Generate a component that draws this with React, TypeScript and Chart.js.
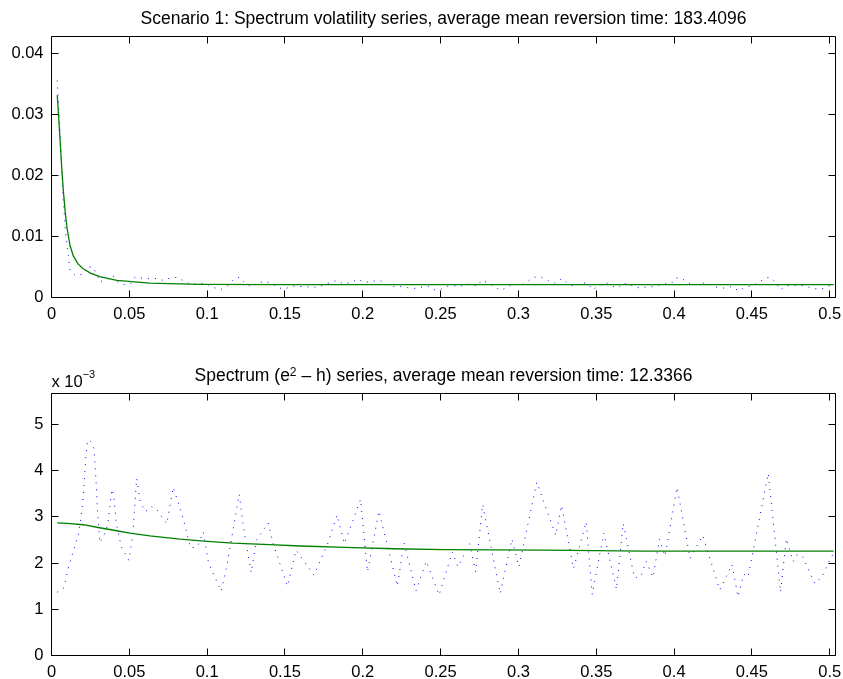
import React, { useEffect, useRef } from 'react';
import { Chart, registerables } from 'chart.js';

Chart.register(...registerables);

// ---------- Top panel: spectrum of the volatility series ----------
const VOL_FREQ = [
  0.0037, 0.0045, 0.0061, 0.0067, 0.0072, 0.0082, 0.0089, 0.0095, 0.0101, 0.0108, 0.0114, 0.0119,
  0.0153, 0.0200, 0.0221, 0.0264, 0.0290, 0.0307, 0.0350, 0.0393, 0.0422, 0.0465, 0.0508, 0.0536,
  0.0568, 0.0621, 0.0675, 0.0718, 0.0761, 0.0808, 0.0850, 0.0900, 0.0949, 0.0996,
  0.1037, 0.1084, 0.1126, 0.1163, 0.1207, 0.1242, 0.1284, 0.1320, 0.1367, 0.1415, 0.1454, 0.1501,
  0.1546, 0.1640, 0.1693, 0.1740, 0.1787, 0.1832, 0.1876, 0.1923, 0.1970, 0.2007, 0.2065, 0.2112,
  0.2154, 0.2201, 0.2238, 0.2324, 0.2369, 0.2414, 0.2458, 0.2503, 0.2547, 0.2594, 0.2636, 0.2689,
  0.2736, 0.2762, 0.2799, 0.2841, 0.2886, 0.2969, 0.3014, 0.3056, 0.3098, 0.3145, 0.3192, 0.3234,
  0.3279, 0.3321, 0.3363, 0.3407, 0.3449, 0.3475, 0.3554, 0.3599, 0.3641, 0.3667, 0.3709, 0.3756,
  0.3803, 0.3848, 0.3934, 0.3981, 0.4013, 0.4057, 0.4105, 0.4147, 0.4189, 0.4233, 0.4278, 0.4325,
  0.4370, 0.4414, 0.4459, 0.4506, 0.4545, 0.4590, 0.4621, 0.4655, 0.4681, 0.4729, 0.4807, 0.4852,
  0.4899, 0.4949, 0.4991, 0.5025,
];
const VOL_SPEC = [
  0.0355, 0.0320, 0.0241, 0.0203, 0.0175, 0.0137, 0.0110, 0.0096, 0.0082, 0.0069, 0.0055, 0.0044,
  0.0036, 0.0038, 0.0050, 0.0050, 0.0039, 0.0026, 0.0028, 0.0036, 0.0026, 0.0021, 0.0022, 0.0033,
  0.0032, 0.0031, 0.0031, 0.0028, 0.0032, 0.0033, 0.0027, 0.0021, 0.0023, 0.0022,
  0.00169, 0.00126, 0.0018, 0.00278, 0.00333, 0.00235, 0.00169, 0.00235, 0.00262, 0.00235, 0.00158, 0.00142,
  0.00186, 0.00175, 0.00169, 0.00197, 0.0024, 0.00278, 0.00224, 0.00246, 0.003, 0.00246, 0.00267, 0.00278,
  0.00213, 0.0018, 0.0018, 0.00147, 0.00164, 0.00191, 0.00126, 0.00136, 0.00186, 0.00191, 0.00191, 0.00224,
  0.0018, 0.00278, 0.00246, 0.0018, 0.00115, 0.00224, 0.00197, 0.00257, 0.00333, 0.00333, 0.00278, 0.00235,
  0.00311, 0.00224, 0.0018, 0.00246, 0.00224, 0.00126, 0.00251, 0.00191, 0.00153, 0.00224, 0.00224, 0.00158,
  0.00169, 0.00169, 0.00224, 0.00224, 0.00322, 0.00295, 0.00224, 0.00213, 0.00235, 0.00213, 0.00164, 0.00153,
  0.0018, 0.00109, 0.00169, 0.00197, 0.00251, 0.00322, 0.00333, 0.00235, 0.00126, 0.00197, 0.00202, 0.0018,
  0.00142, 0.00142, 0.00191, 0.0020,
];
const VOL_FIT_FREQ = [
  0.0037, 0.0046, 0.0055, 0.0065, 0.0076, 0.0088, 0.0100, 0.0119, 0.0140, 0.0170, 0.0204, 0.0250,
  0.0310, 0.0420, 0.0630, 0.0950, 0.1500, 0.5025,
];
const VOL_FIT = [
  0.0331, 0.0295, 0.0258, 0.0215, 0.0175, 0.0140, 0.0113, 0.0085, 0.0068, 0.0055, 0.0047, 0.0040,
  0.0034, 0.0028, 0.00235, 0.00215, 0.0021, 0.0021,
];

// ---------- Bottom panel: spectrum of (e^2 - h), values in units of 1e-3 ----------
const EH_FREQ = [
  0.0037, 0.0076, 0.0091, 0.0112, 0.0144, 0.0172, 0.0187, 0.0200, 0.0211, 0.0221, 0.0232, 0.0252,
  0.0273, 0.0286, 0.0296, 0.0311, 0.0335, 0.0360, 0.0388, 0.0400, 0.0416, 0.0448, 0.0497, 0.0523,
  0.0547, 0.0570, 0.0602, 0.0643, 0.0673, 0.0741, 0.0782, 0.0829, 0.0857, 0.0893, 0.0936, 0.0975,
  0.1009, 0.1090, 0.1124, 0.1150, 0.1206, 0.1231, 0.1283, 0.1317, 0.1392, 0.1422, 0.1516, 0.1571,
  0.1687, 0.1777, 0.1834, 0.1882, 0.1986, 0.2030, 0.2104, 0.2222, 0.2265, 0.2342, 0.2408, 0.2490,
  0.2575, 0.2611, 0.2686, 0.2725, 0.2770, 0.2883, 0.2958, 0.3003, 0.3118, 0.3240, 0.3277, 0.3354,
  0.3435, 0.3474, 0.3548, 0.3630, 0.3673, 0.3745, 0.3788, 0.3820, 0.3865, 0.3906, 0.3942, 0.4019,
  0.4103, 0.4184, 0.4293, 0.4372, 0.4411, 0.4447, 0.4475, 0.4605, 0.4684, 0.4721, 0.4764, 0.4789,
  0.4825, 0.4905, 0.4956, 0.4999, 0.5025,
];
const EH_SPEC = [
  1.37, 1.45, 1.63, 1.95, 2.30, 2.60, 2.94, 3.29, 3.80, 4.32, 4.66, 4.63,
  4.48, 3.79, 3.11, 2.44, 2.59, 2.81, 3.60, 3.45, 2.86, 2.36, 2.06, 2.64,
  3.83, 3.34, 3.11, 3.22, 3.18, 2.85, 3.64, 3.15, 2.82, 2.33, 2.35, 2.67,
  2.00, 1.39, 1.89, 2.40, 3.49, 2.82, 1.79, 2.50, 2.87, 2.44, 1.50, 2.28,
  1.74, 2.44, 3.04, 2.42, 3.38, 1.81, 3.13, 1.50, 2.44, 1.40, 2.04, 1.31,
  2.24, 1.92, 2.42, 1.81, 3.27, 1.34, 2.52, 1.92, 3.75, 2.60, 3.25, 1.88,
  2.89, 1.32, 2.65, 1.43, 2.86, 1.68, 1.72, 2.04, 1.69, 2.52, 2.15, 3.64,
  2.10, 2.60, 1.42, 1.97, 1.27, 1.76, 1.70, 3.94, 1.37, 2.53, 2.03, 2.18,
  2.15, 1.55, 1.74, 2.06, 2.22,
];
const EH_FIT_FREQ = [
  0.0037, 0.0100, 0.0204, 0.0300, 0.0418, 0.0504, 0.0632, 0.0825, 0.1000, 0.1167, 0.1400, 0.1600,
  0.1884, 0.2200, 0.2526, 0.3169, 0.3810, 0.5025,
];
const EH_FIT = [
  2.87, 2.86, 2.83, 2.77, 2.70, 2.65, 2.59, 2.52, 2.47, 2.43, 2.40, 2.37,
  2.34, 2.31, 2.29, 2.28, 2.26, 2.26,
];

// ---------- Axes ----------
const X_MAX = 0.5037;
const X_TICKS = [0, 0.05, 0.1, 0.15, 0.2, 0.25, 0.3, 0.35, 0.4, 0.45, 0.5];
const X_TICK_LABELS = ['0', '0.05', '0.1', '0.15', '0.2', '0.25', '0.3', '0.35', '0.4', '0.45', '0.5'];
const TOP_Y_MAX = 0.0427;
const TOP_Y_TICKS = [0, 0.01, 0.02, 0.03, 0.04];
const TOP_Y_LABELS = ['0', '0.01', '0.02', '0.03', '0.04'];
const BOT_Y_MAX = 5.67;
const BOT_Y_TICKS = [0, 1, 2, 3, 4, 5];
const BOT_Y_LABELS = ['0', '1', '2', '3', '4', '5'];

const TOP_TITLE = [{ text: 'Scenario 1: Spectrum volatility series, average mean reversion time: 183.4096' }];
const BOT_TITLE = [
  { text: 'Spectrum (e' },
  { text: '2', sup: true },
  { text: ' \u2013 h) series, average mean reversion time: 12.3366' },
];
const BOT_EXPONENT = [{ text: 'x 10' }, { text: '\u22123', sup: true }];

const FONT = '"Liberation Sans", Arial, Helvetica, sans-serif';
const TICK_SIZE = 16.5;
const TITLE_SIZE = 17.5;

function drawRich(ctx: any, segs: any[], x: number, baseline: number, align: string, size: number, supSize: number, rise: number) {
  let total = 0;
  const widths = segs.map((s) => {
    ctx.font = `${s.sup ? supSize : size}px ${FONT}`;
    const w = ctx.measureText(s.text).width;
    total += w;
    return w;
  });
  let cx = align === 'center' ? x - total / 2 : x;
  ctx.fillStyle = '#000';
  ctx.textAlign = 'left';
  ctx.textBaseline = 'alphabetic';
  segs.forEach((s, i) => {
    ctx.font = `${s.sup ? supSize : size}px ${FONT}`;
    ctx.fillText(s.text, cx, baseline - (s.sup ? rise : 0));
    cx += widths[i];
  });
}

const matlabAxes = {
  id: 'matlabAxes',
  afterDraw(chart: any, _args: any, opts: any) {
    const { ctx, chartArea: a } = chart;
    const xs = chart.scales.x;
    const ys = chart.scales.y;
    const L = 7;
    ctx.save();
    ctx.strokeStyle = '#000';
    ctx.lineWidth = 1;
    ctx.beginPath();
    ctx.rect(a.left, a.top, a.right - a.left, a.bottom - a.top);
    xs.ticks.forEach((t: any) => {
      const p = Math.floor(xs.getPixelForValue(t.value)) + 0.5;
      ctx.moveTo(p, a.bottom);
      ctx.lineTo(p, a.bottom - L);
      ctx.moveTo(p, a.top);
      ctx.lineTo(p, a.top + L);
    });
    ys.ticks.forEach((t: any) => {
      const p = Math.floor(ys.getPixelForValue(t.value)) + 0.5;
      ctx.moveTo(a.left, p);
      ctx.lineTo(a.left + L, p);
      ctx.moveTo(a.right, p);
      ctx.lineTo(a.right - L, p);
    });
    ctx.stroke();
    if (opts.title) drawRich(ctx, opts.title, (a.left + a.right) / 2, a.top - 13, 'center', TITLE_SIZE, 12, 5);
    if (opts.exponent) drawRich(ctx, opts.exponent, a.left, a.top - 6.8, 'left', 16.5, 11, 9);
    ctx.restore();
  },
};

function pts(xs: number[], ys: number[]) {
  return xs.map((x, i) => ({ x, y: ys[i] }));
}

function makeConfig(p: any) {
  return {
    type: 'line',
    data: {
      datasets: [
        {
          data: pts(p.fitX, p.fitY),
          borderColor: 'rgb(0,128,0)',
          borderWidth: 1.3,
          pointRadius: 0,
          tension: 0,
          fill: false,
        },
        {
          data: pts(p.specX, p.specY),
          borderColor: 'rgb(0,0,255)',
          borderWidth: 1,
          borderDash: [1, 6],
          pointRadius: 0,
          tension: 0,
          fill: false,
        },
      ],
    },
    options: {
      animation: false,
      responsive: false,
      devicePixelRatio: 1,
      layout: { padding: p.padding },
      plugins: {
        legend: { display: false },
        title: { display: false },
        tooltip: { enabled: false },
        matlabAxes: { title: p.title, exponent: p.exponent },
      },
      scales: {
        x: {
          type: 'linear',
          min: 0,
          max: X_MAX,
          grid: { display: false, drawTicks: false },
          border: { display: false },
          afterBuildTicks: (s: any) => {
            s.ticks = X_TICKS.map((v) => ({ value: v }));
          },
          afterFit: (s: any) => {
            s.height = p.xAxisHeight;
            s.paddingLeft = 0;
            s.paddingRight = 0;
          },
          ticks: {
            autoSkip: false,
            maxRotation: 0,
            padding: 7,
            color: '#000',
            font: { family: FONT, size: TICK_SIZE },
            callback: (_v: any, i: number) => X_TICK_LABELS[i],
          },
        },
        y: {
          type: 'linear',
          min: 0,
          max: p.yMax,
          grid: { display: false, drawTicks: false },
          border: { display: false },
          afterBuildTicks: (s: any) => {
            s.ticks = p.yTicks.map((v: number) => ({ value: v }));
          },
          afterFit: (s: any) => {
            s.width = 51.5;
            s.paddingTop = 0;
            s.paddingBottom = 0;
          },
          ticks: {
            autoSkip: false,
            padding: 8,
            color: '#000',
            font: { family: FONT, size: TICK_SIZE },
            callback: (_v: any, i: number) => p.yLabels[i],
          },
        },
      },
    },
    plugins: [matlabAxes],
  } as any;
}

export default function App() {
  const topRef = useRef<HTMLCanvasElement | null>(null);
  const botRef = useRef<HTMLCanvasElement | null>(null);

  useEffect(() => {
    const top = new Chart(
      topRef.current as HTMLCanvasElement,
      makeConfig({
        fitX: VOL_FIT_FREQ,
        fitY: VOL_FIT,
        specX: VOL_FREQ,
        specY: VOL_SPEC,
        yMax: TOP_Y_MAX,
        yTicks: TOP_Y_TICKS,
        yLabels: TOP_Y_LABELS,
        title: TOP_TITLE,
        exponent: null,
        padding: { top: 36.5, right: 7.5, bottom: 339, left: 0 },
        xAxisHeight: 42.5,
      })
    );
    const bot = new Chart(
      botRef.current as HTMLCanvasElement,
      makeConfig({
        fitX: EH_FIT_FREQ,
        fitY: EH_FIT,
        specX: EH_FREQ,
        specY: EH_SPEC,
        yMax: BOT_Y_MAX,
        yTicks: BOT_Y_TICKS,
        yLabels: BOT_Y_LABELS,
        title: BOT_TITLE,
        exponent: BOT_EXPONENT,
        padding: { top: 393.5, right: 7.5, bottom: 0, left: 0 },
        xAxisHeight: 23.5,
      })
    );
    return () => {
      top.destroy();
      bot.destroy();
    };
  }, []);

  const canvasStyle: React.CSSProperties = { position: 'absolute', left: 0, top: 0, width: 843, height: 679 };
  return (
    <div style={{ position: 'absolute', left: 0, top: 0, width: 843, height: 679, background: '#fff' }}>
      <canvas ref={topRef} width={843} height={679} style={canvasStyle} />
      <canvas ref={botRef} width={843} height={679} style={canvasStyle} />
    </div>
  );
}
